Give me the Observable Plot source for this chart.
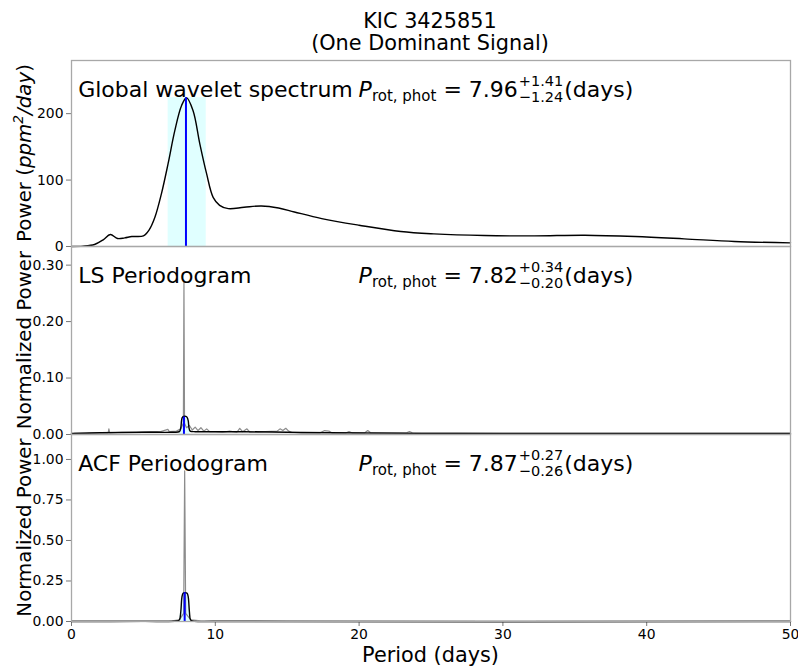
<!DOCTYPE html>
<html><head><meta charset="utf-8">
<script src="https://cdn.jsdelivr.net/npm/d3@7"></script>
<script src="https://cdn.jsdelivr.net/npm/@observablehq/plot@0.6"></script>
<style>
body{margin:0;background:#fff;font-family:"DejaVu Sans",sans-serif;}
#wrap{position:relative;width:798px;height:670px;overflow:hidden;background:#fff;}
#title{position:absolute;left:130px;top:10px;width:600px;text-align:center;font-size:20.8px;line-height:22px;color:#000;}
#wrap svg{position:absolute;left:0;top:0;}
</style></head>
<body>
<div id="wrap"><div id="title">KIC 3425851<br>(One Dominant Signal)</div></div>
<script>
// ---------- data ----------
const titleLines = ["KIC 3425851", "(One Dominant Signal)"];
const xTicks = [0, 10, 20, 30, 40, 50];

// Global wavelet spectrum
const gwsPeriod = [0, 0.8, 1.6, 2.2, 2.7, 3.2, 3.7, 4.2, 5.0, 5.4, 5.8, 6.26, 6.72, 7.18, 7.65, 8.0, 8.46, 8.92, 9.39, 9.85, 10.3, 10.9, 12.0, 13.2, 14.4, 15.5, 17.4, 20.0, 22.9, 25.2, 28.7, 32.2, 35.7, 39.2, 42.6, 46.1, 50];
const gwsPower  = [0, 0.5, 3, 10, 18, 12, 13, 15, 16, 25, 44, 80, 125, 174, 212, 224, 204, 155, 110, 74, 62, 57, 59, 61, 58, 52, 42, 32, 22.5, 19, 16.5, 16, 17, 15, 11.5, 7.5, 5.5];
const gwsBest = 7.96, gwsPlus = 1.41, gwsMinus = 1.24, gwsPeak = 224;
const gwsTicks = [0, 100, 200];

// LS periodogram (raw, grey)
const lsPeriod = [0.2, 1, 2, 2.55, 2.6, 2.65, 3.5, 4.5, 5.5, 6.2, 6.7, 6.8, 7.3, 7.6, 7.78, 7.82, 7.86, 8.0, 8.2, 8.4, 8.6, 8.8, 9.0, 9.2, 9.4, 9.6, 10.0, 10.5, 11.0, 11.5, 11.7, 11.9, 12.2, 12.4, 13.0, 13.5, 14.3, 14.5, 14.7, 14.9, 15.1, 15.3, 16, 17.3, 17.6, 17.9, 18.1, 19.1, 19.3, 19.5, 20.4, 20.6, 20.8, 23.3, 23.5, 23.7, 30, 40, 50];
const lsPower  = [0.002, 0.002, 0.003, 0.003, 0.01, 0.003, 0.004, 0.004, 0.005, 0.005, 0.009, 0.005, 0.006, 0.01, 0.02, 0.27, 0.02, 0.012, 0.016, 0.008, 0.013, 0.007, 0.012, 0.006, 0.01, 0.005, 0.005, 0.004, 0.006, 0.004, 0.011, 0.005, 0.01, 0.004, 0.004, 0.005, 0.006, 0.01, 0.007, 0.011, 0.006, 0.004, 0.003, 0.003, 0.007, 0.006, 0.003, 0.003, 0.005, 0.003, 0.003, 0.007, 0.003, 0.003, 0.005, 0.003, 0.002, 0.002, 0.002];
// LS smoothed (black)
const lsFitPeriod = [0, 2, 5, 7.0, 7.5, 7.6, 7.65, 7.7, 7.8, 7.95, 8.05, 8.12, 8.17, 8.25, 8.6, 10, 12, 15, 18, 25, 35, 50];
const lsFitPower  = [0.002, 0.003, 0.004, 0.004, 0.005, 0.012, 0.024, 0.03, 0.032, 0.032, 0.03, 0.024, 0.012, 0.006, 0.005, 0.005, 0.005, 0.004, 0.003, 0.002, 0.002, 0.002];
const lsBest = 7.82, lsPlus = 0.34, lsMinus = 0.20, lsPeak = 0.031;
const lsTicks = [0, 0.1, 0.2, 0.3];

// ACF periodogram (raw, grey)
const acfPeriod = [0, 5, 7.0, 7.5, 7.8, 7.87, 7.94, 8.3, 9, 15, 50];
const acfPower  = [0.003, 0.003, 0.004, 0.01, 0.05, 0.93, 0.05, 0.01, 0.004, 0.003, 0.002];
// ACF smoothed (black)
const acfFitPeriod = [0, 5, 7.3, 7.5, 7.6, 7.68, 7.76, 7.9, 8.04, 8.12, 8.2, 8.28, 8.45, 10, 50];
const acfFitPower  = [0, 0.001, 0.003, 0.01, 0.06, 0.15, 0.175, 0.178, 0.175, 0.15, 0.06, 0.01, 0.002, 0, 0];
const acfBest = 7.87, acfPlus = 0.27, acfMinus = 0.26, acfPeak = 0.178;
const acfTicks = [0, 0.25, 0.5, 0.75, 1.0];

const panelNames = ["Global wavelet spectrum", "LS Periodogram", "ACF Periodogram"];
const yLabels = ["Power", "Normalized Power", "Normalized Power"];

// ---------- layout ----------
const W = 798, H = 670, ML = 71, MR = 8;
const tops = [60, 246, 434], bottoms = [246, 434, 621];
const FONT = "DejaVu Sans";

const zip = (xs, ys) => xs.map((x, i) => ({x, y: ys[i]}));
const wrap = document.getElementById("wrap");

function makePanel(i, yDomain, yTicks, fmt, marks, showX) {
  const p = Plot.plot({
    width: W, height: H,
    marginLeft: ML, marginRight: MR, marginTop: tops[i], marginBottom: H - bottoms[i],
    style: {background: "transparent", fontFamily: FONT, fontSize: "13.9px", color: "#000", overflow: "visible"},
    x: showX ? {domain: [0, 50], ticks: xTicks, tickSize: 5, tickPadding: 3, label: null, tickFormat: d3.format("d")}
             : {domain: [0, 50], axis: null},
    y: {domain: yDomain, ticks: yTicks, tickSize: 5, tickPadding: 3, tickFormat: fmt, label: null},
    marks: [
      ...marks,
      Plot.frame({stroke: "#a8a8a8", strokeWidth: 1.3})
    ]
  });
  wrap.appendChild(p);
  return p;
}

const blue = "#0000ff", cyan = "#e0ffff";

const gwsData = zip(gwsPeriod, gwsPower);
const p1 = makePanel(0, [0, 280], gwsTicks, d3.format("d"), [
  Plot.rect([{x1: gwsBest - gwsMinus, x2: gwsBest + gwsPlus, y1: 0, y2: gwsPeak}], {x1: "x1", x2: "x2", y1: "y1", y2: "y2", fill: cyan}),
  Plot.line(gwsData, {x: "x", y: "y", stroke: "#000", strokeWidth: 1.4, curve: "catmull-rom"}),
  Plot.ruleX([gwsBest], {y1: 0, y2: gwsPeak, stroke: blue, strokeWidth: 2})
], false);

const lsFit = zip(lsFitPeriod, lsFitPower);
const p2 = makePanel(1, [0, 0.333], lsTicks, d3.format(".2f"), [
  Plot.areaY(lsFit.filter(d => d.x >= 7.5 && d.x <= 8.3), {x: "x", y: "y", fill: cyan}),
  Plot.line(zip(lsPeriod, lsPower), {x: "x", y: "y", stroke: "#8c8c8c", strokeWidth: 1.2}),
  Plot.line(lsFit, {x: "x", y: "y", stroke: "#000", strokeWidth: 1.4, curve: "catmull-rom"}),
  Plot.ruleX([lsBest], {y1: 0, y2: lsPeak, stroke: blue, strokeWidth: 2})
], false);

const acfFit = zip(acfFitPeriod, acfFitPower);
const p3 = makePanel(2, [0, 1.154], acfTicks, d3.format(".2f"), [
  Plot.areaY(acfFit.filter(d => d.x >= 7.5 && d.x <= 8.28), {x: "x", y: "y", fill: cyan}),
  Plot.line(zip(acfPeriod, acfPower), {x: "x", y: "y", stroke: "#8c8c8c", strokeWidth: 1.2}),
  Plot.line(acfFit, {x: "x", y: "y", stroke: "#000", strokeWidth: 1.4, curve: "catmull-rom"}),
  Plot.ruleX([acfBest], {y1: 0, y2: acfPeak, stroke: blue, strokeWidth: 2})
], true);

// ---------- annotations ----------
const plots = [p1, p2, p3];
const xsc = p3.scale("x");
const X = v => (xsc && xsc.apply) ? xsc.apply(v) : ML + (W - ML - MR) * v / 50;

plots.forEach(p => {
  d3.select(p).selectAll('[aria-label*="axis"] line, [aria-label*="axis tick"] path').attr("stroke", "#777");
});

function formula(svg, x, y, val, plus, minus) {
  const g = d3.select(svg).append("g").attr("font-family", FONT).attr("fill", "#000").attr("text-anchor", "start");
  const t = g.append("text").attr("x", x).attr("y", y).attr("font-size", 22);
  t.append("tspan").attr("font-style", "italic").text("P");
  t.append("tspan").attr("font-size", 15).attr("dy", 4).text("rot, phot");
  t.append("tspan").attr("dy", -4).text(" = " + val);
  const w = t.node().getComputedTextLength();
  const xs = x + w + 1;
  const sup = g.append("text").attr("x", xs).attr("y", y - 11).attr("font-size", 14.5).text("+" + plus);
  const sub = g.append("text").attr("x", xs).attr("y", y + 5).attr("font-size", 14.5).text("\u2212" + minus);
  const w2 = Math.max(sup.node().getComputedTextLength(), sub.node().getComputedTextLength());
  g.append("text").attr("x", xs + w2 + 1).attr("y", y).attr("font-size", 22).text("(days)");
}

const vals = [[gwsBest, gwsPlus, gwsMinus], [lsBest, lsPlus, lsMinus], [acfBest, acfPlus, acfMinus]];
plots.forEach((p, i) => {
  const base = tops[i] + 37;
  d3.select(p).append("text").attr("x", X(0.5)).attr("y", base).attr("text-anchor", "start")
    .attr("font-family", FONT).attr("font-size", 22).attr("fill", "#000").text(panelNames[i]);
  formula(p, X(20), base, vals[i][0].toFixed(2), vals[i][1].toFixed(2), vals[i][2].toFixed(2));
  // y label
  const cy = (tops[i] + bottoms[i]) / 2;
  const lt = d3.select(p).append("text").attr("transform", `translate(31,${cy}) rotate(-90)`)
    .attr("text-anchor", "middle").attr("font-family", FONT).attr("font-size", 19.8).attr("fill", "#000");
  if (i === 0) {
    lt.append("tspan").text(yLabels[0] + " (");
    lt.append("tspan").attr("font-style", "italic").text("ppm");
    lt.append("tspan").attr("font-style", "italic").attr("font-size", 13.8).attr("dy", -8).text("2");
    lt.append("tspan").attr("font-style", "italic").attr("dy", 8).text("/day");
    lt.append("tspan").text(")");
  } else {
    lt.text(yLabels[i]);
  }
});

// x label
d3.select(p3).append("text").attr("x", (ML + W - MR) / 2).attr("y", 662)
  .attr("text-anchor", "middle").attr("font-family", FONT).attr("font-size", 20.8).attr("fill", "#000")
  .text("Period (days)");
</script>
</body></html>
